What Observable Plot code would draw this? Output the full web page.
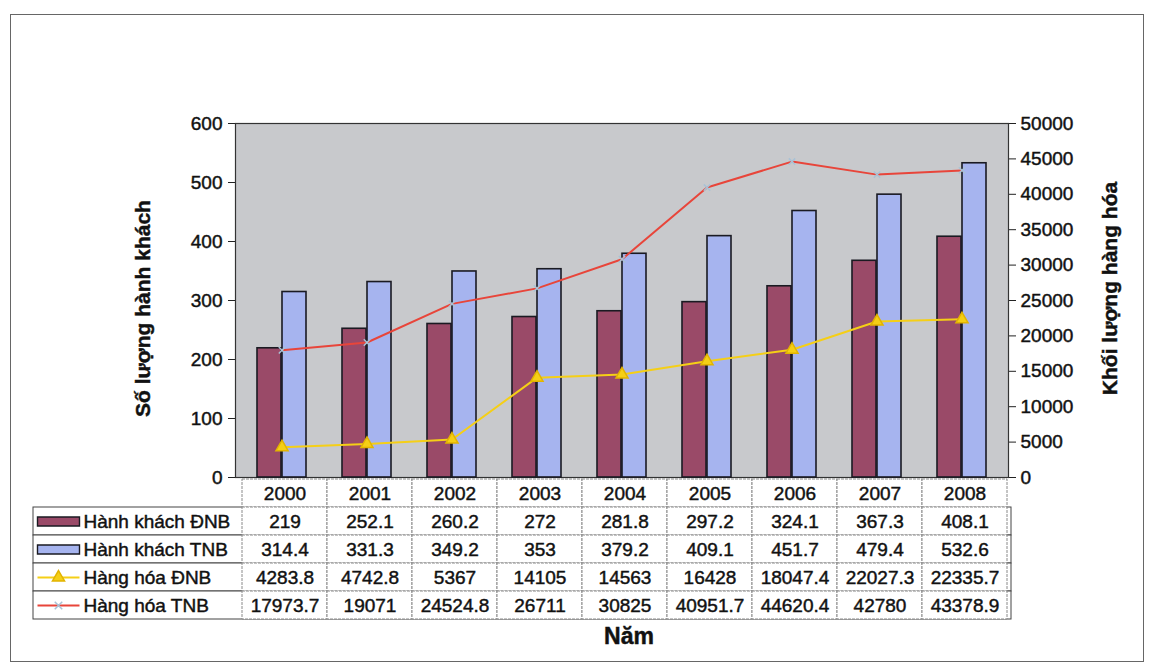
<!DOCTYPE html>
<html>
<head>
<meta charset="utf-8">
<script src="https://cdn.jsdelivr.net/npm/d3@7"></script>
<script src="https://cdn.jsdelivr.net/npm/@observablehq/plot@0.6"></script>
<style>
  html, body { margin: 0; padding: 0; background: #fff; }
  #wrap { position: relative; width: 1150px; height: 670px; overflow: hidden; background: #fff; }
  #wrap svg { position: absolute; left: 0; top: 0; }
  #wrap svg text { paint-order: stroke; stroke: #111; stroke-width: 0.45px; }
  #border { position: absolute; left: 10px; top: 14px; width: 1134px; height: 648px; border: 1px solid #666; box-sizing: border-box; }
</style>
</head>
<body>
<div id="wrap"><div id="border"></div></div>
<script>
// ---- data ----
const years = ["2000", "2001", "2002", "2003", "2004", "2005", "2006", "2007", "2008"];
const hanhKhachDNB = [219, 252.1, 260.2, 272, 281.8, 297.2, 324.1, 367.3, 408.1];
const hanhKhachTNB = [314.4, 331.3, 349.2, 353, 379.2, 409.1, 451.7, 479.4, 532.6];
const hangHoaDNB = [4283.8, 4742.8, 5367, 14105, 14563, 16428, 18047.4, 22027.3, 22335.7];
const hangHoaTNB = [17973.7, 19071, 24524.8, 26711, 30825, 40951.7, 44620.4, 42780, 43378.9];
const seriesNames = ["Hành khách ĐNB", "Hành khách TNB", "Hàng hóa ĐNB", "Hàng hóa TNB"];
const leftTicks = [0, 100, 200, 300, 400, 500, 600];
const rightTicks = [0, 5000, 10000, 15000, 20000, 25000, 30000, 35000, 40000, 45000, 50000];
const leftTitle = "Số lượng hành khách";
const rightTitle = "Khối lượng hàng hóa";
const xTitle = "Năm";

// ---- derived tables ----
const rows = (vals) => years.map((year, i) => ({year, value: vals[i]}));
const rDNB = rows(hanhKhachDNB), rTNB = rows(hanhKhachTNB);
const gDNB = rows(hangHoaDNB), gTNB = rows(hangHoaTNB);
const ratio = 600 / 50000; // right axis -> left axis units
const allSeries = [hanhKhachDNB, hanhKhachTNB, hangHoaDNB, hangHoaTNB];
const cells = [];
years.forEach((year, i) => {
  cells.push({year, row: "", label: year});
  seriesNames.forEach((name, k) => cells.push({year, row: name, label: String(allSeries[k][i])}));
});

const C = {
  plotBg: "#c8c9cc", maroon: "#9a4a68", blue: "#a6b4ef",
  red: "#e8453a", yellow: "#f5cf16", marker: "#a9c2d6"
};
const font = "'Liberation Sans', Arial, sans-serif";

// custom swatch symbols
const rectSym = {draw(ctx) { ctx.moveTo(-21, -4.5); ctx.lineTo(21, -4.5); ctx.lineTo(21, 4.5); ctx.lineTo(-21, 4.5); ctx.closePath(); }};
const lineSym = {draw(ctx) { ctx.moveTo(-21, 0); ctx.lineTo(21, 0); }};

const main = Plot.plot({
  width: 1150, height: 670,
  marginLeft: 235, marginRight: 142, marginTop: 123, marginBottom: 193,
  style: {fontFamily: font, fontSize: "19px", color: "#111", background: "transparent"},
  x: {domain: years, padding: 0, axis: null},
  y: {domain: [0, 600], axis: null},
  marks: [
    Plot.frame({fill: C.plotBg, stroke: "#333", strokeWidth: 1.2}),
    Plot.barY(rDNB, {x: "year", y: "value", fill: C.maroon, stroke: "#1a1a22", strokeWidth: 1.6, insetLeft: 18, insetRight: 43}),
    Plot.barY(rTNB, {x: "year", y: "value", fill: C.blue, stroke: "#1a1a22", strokeWidth: 1.6, insetLeft: 43, insetRight: 18}),
    Plot.line(gTNB, {x: "year", y: d => d.value * ratio, stroke: C.red, strokeWidth: 2}),
    Plot.dot(gTNB, {x: "year", y: d => d.value * ratio, symbol: "times", r: 3, stroke: C.marker, strokeWidth: 1.5}),
    Plot.line(gDNB, {x: "year", y: d => d.value * ratio, stroke: C.yellow, strokeWidth: 2}),
    Plot.dot(gDNB, {x: "year", y: d => d.value * ratio, symbol: "triangle", r: 4.5, fill: C.yellow, stroke: "#e2b400"}),
    Plot.axisY(leftTicks, {anchor: "left", tickSize: 7, tickPadding: 6, label: null, stroke: "#222"}),
    Plot.axisY(rightTicks.map(v => v * ratio), {anchor: "right", tickSize: 7, tickPadding: 5, label: null, stroke: "#222",
      tickFormat: d => String(Math.round(d / ratio))}),
    Plot.text([leftTitle], {frameAnchor: "left", textAnchor: "middle", rotate: -90, dx: -92, dy: 8, fontSize: 21, fontWeight: "bold", text: d => d}),
    Plot.text([rightTitle], {frameAnchor: "right", textAnchor: "middle", rotate: -90, dx: 102, dy: -12, fontSize: 21, fontWeight: "bold", text: d => d}),
    Plot.text([xTitle], {frameAnchor: "bottom", dy: 166, dx: 7, fontSize: 23, fontWeight: "bold", text: d => d})
  ]
});

const table = Plot.plot({
  width: 1150, height: 670,
  marginLeft: 33, marginRight: 139, marginTop: 477, marginBottom: 50,
  style: {fontFamily: font, fontSize: "19px", color: "#111", background: "transparent"},
  x: {domain: years, range: [238, 1011], padding: 0, axis: null},
  y: {domain: ["", ...seriesNames], padding: 0, axis: null},
  marks: [
    Plot.cell(seriesNames, {y: d => d, fill: "#fff", stroke: "#444", strokeWidth: 1}),
    Plot.cell(cells, {x: "year", y: "row", fill: "#fff", stroke: "#8a8a8a", strokeWidth: 1, strokeDasharray: "3,1"}),
    Plot.text(cells, {x: "year", y: "row", text: "label"}),
    Plot.text(seriesNames, {y: d => d, text: d => d, frameAnchor: "left", textAnchor: "start", dx: 50}),
    // swatches
    Plot.dot([seriesNames[0]], {y: d => d, frameAnchor: "left", dx: 25, symbol: rectSym, fill: C.maroon, stroke: "#1a1a22", strokeWidth: 1.4}),
    Plot.dot([seriesNames[1]], {y: d => d, frameAnchor: "left", dx: 25, symbol: rectSym, fill: C.blue, stroke: "#1a1a22", strokeWidth: 1.4}),
    Plot.dot([seriesNames[2]], {y: d => d, frameAnchor: "left", dx: 25, symbol: lineSym, fill: "none", stroke: C.yellow, strokeWidth: 2}),
    Plot.dot([seriesNames[2]], {y: d => d, frameAnchor: "left", dx: 25, symbol: "triangle", r: 4.5, fill: C.yellow, stroke: "#e2b400"}),
    Plot.dot([seriesNames[3]], {y: d => d, frameAnchor: "left", dx: 25, symbol: lineSym, fill: "none", stroke: C.red, strokeWidth: 2}),
    Plot.dot([seriesNames[3]], {y: d => d, frameAnchor: "left", dx: 25, symbol: "times", r: 3.5, stroke: C.marker, strokeWidth: 1.5})
  ]
});

const wrap = document.getElementById("wrap");
wrap.appendChild(main);
wrap.appendChild(table);
</script>
</body>
</html>
